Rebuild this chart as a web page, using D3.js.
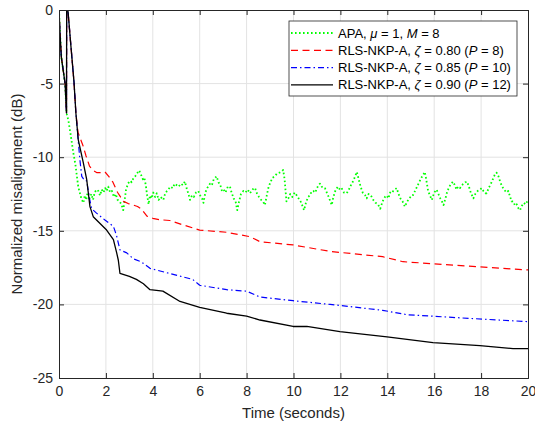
<!DOCTYPE html>
<html>
<head>
<meta charset="utf-8">
<script src="https://cdn.jsdelivr.net/npm/d3@7"></script>
<style>
  html, body { margin: 0; padding: 0; background: #fff; }
  svg { display: block; font-family: "Liberation Sans", Arial, Helvetica, sans-serif; }
</style>
</head>
<body>
<svg id="chart" width="535" height="431"></svg>
<script>
// ---------------- DATA ----------------
const xTicks = [0, 2, 4, 6, 8, 10, 12, 14, 16, 18, 20];
const yTicks = [0, -5, -10, -15, -20, -25];
const xLabel = "Time (seconds)";
const yLabel = "Normalized misalignment (dB)";

// APA, mu = 1, M = 8 (green dotted)
const apaTime = [0,0.04,0.1,0.26,0.32,0.4,0.5,0.61,0.7,0.82,0.95,1.04,1.1,1.16,1.22,1.3,1.38,1.45,1.52,1.6,1.68,1.75,1.82,1.9,1.97,2.03,2.1,2.18,2.26,2.34,2.42,2.5,2.58,2.66,2.74,2.8,2.86,2.94,3.03,3.1,3.18,3.25,3.33,3.42,3.5,3.58,3.64,3.7,3.76,3.82,3.88,3.95,4.02,4.1,4.17,4.25,4.33,4.45,4.52,4.6,4.66,4.75,4.85,4.93,5.02,5.1,5.2,5.28,5.37,5.44,5.52,5.59,5.67,5.75,5.84,5.94,6.02,6.1,6.16,6.24,6.32,6.44,6.52,6.6,6.72,6.8,6.88,6.95,7.02,7.1,7.2,7.29,7.36,7.45,7.53,7.6,7.68,7.76,7.86,7.95,8.05,8.14,8.22,8.3,8.36,8.45,8.53,8.62,8.7,8.78,8.86,8.94,9.02,9.1,9.2,9.3,9.4,9.5,9.56,9.62,9.7,9.78,9.86,9.95,10.05,10.14,10.22,10.3,10.38,10.45,10.53,10.62,10.7,10.78,10.85,10.93,11.0,11.07,11.13,11.2,11.28,11.34,11.42,11.5,11.57,11.63,11.7,11.8,11.9,11.98,12.05,12.15,12.27,12.36,12.45,12.55,12.63,12.7,12.78,12.86,12.95,13.05,13.12,13.2,13.3,13.4,13.5,13.6,13.7,13.8,13.9,13.97,14.05,14.12,14.18,14.25,14.32,14.4,14.48,14.56,14.65,14.75,14.85,14.95,15.02,15.1,15.18,15.27,15.36,15.45,15.53,15.6,15.66,15.74,15.82,15.9,16.0,16.1,16.18,16.26,16.33,16.4,16.48,16.56,16.65,16.72,16.8,16.88,16.95,17.02,17.1,17.18,17.26,17.33,17.4,17.48,17.56,17.67,17.75,17.85,17.95,18.03,18.1,18.18,18.24,18.32,18.42,18.5,18.58,18.66,18.74,18.82,18.9,18.98,19.08,19.16,19.24,19.3,19.37,19.45,19.52,19.6,19.66,19.74,19.82,19.9,20.0];
const apaDb = [0,-1.5,-3.2,-5.0,-7.0,-7.5,-8.5,-9.7,-10.5,-12.0,-12.8,-13.1,-12.6,-12.9,-12.4,-12.8,-12.5,-12.9,-12.4,-12.2,-12.3,-12.6,-12.2,-12.4,-12.1,-12.3,-12.0,-12.4,-12.3,-12.7,-12.5,-12.9,-13.0,-13.2,-13.6,-12.9,-12.2,-11.8,-11.6,-11.7,-11.4,-11.3,-11.1,-10.9,-11.2,-11.5,-11.4,-11.9,-12.6,-13.2,-12.6,-12.8,-12.4,-12.7,-12.45,-12.9,-12.7,-12.9,-12.5,-12.3,-12.2,-12.0,-12.1,-11.8,-11.9,-12.0,-11.8,-11.9,-11.65,-12.1,-12.5,-12.9,-12.6,-12.7,-12.4,-12.3,-12.6,-12.8,-13.1,-12.4,-12.1,-11.8,-11.9,-11.5,-11.3,-11.7,-11.9,-12.3,-12.2,-12.4,-12.0,-12.0,-12.4,-12.8,-13.0,-13.6,-13.0,-12.5,-12.3,-12.4,-12.2,-12.45,-12.3,-12.1,-12.1,-12.5,-12.7,-12.9,-13.0,-13.25,-12.6,-12.0,-11.7,-11.4,-11.3,-11.1,-11.05,-10.95,-10.87,-11.5,-13.0,-12.8,-12.5,-12.7,-12.4,-12.6,-12.8,-13.0,-13.3,-13.6,-13.1,-12.7,-12.6,-12.3,-12.3,-12.4,-12.1,-11.9,-11.8,-12.0,-12.1,-12.1,-12.4,-12.7,-13.0,-13.25,-12.7,-12.2,-12.0,-12.2,-12.1,-12.4,-12.45,-12.2,-11.9,-11.6,-11.3,-11.0,-11.5,-12.0,-12.4,-12.57,-12.8,-12.5,-12.6,-12.9,-13.1,-13.2,-13.5,-13.0,-12.7,-12.6,-12.8,-12.4,-12.45,-12.3,-12.2,-12.1,-12.5,-12.8,-13.0,-13.36,-13.0,-12.8,-12.6,-12.57,-12.3,-12.0,-11.7,-11.4,-11.2,-11.0,-11.5,-12.3,-12.6,-12.9,-12.4,-12.2,-12.5,-12.8,-13.0,-13.25,-12.8,-12.3,-12.0,-11.8,-11.66,-11.9,-12.2,-12.0,-12.1,-11.9,-11.8,-11.7,-11.66,-12.0,-12.4,-12.8,-12.5,-12.3,-12.2,-12.1,-12.3,-12.45,-12.45,-12.1,-11.8,-11.5,-11.2,-11.05,-11.3,-11.7,-12.0,-12.2,-12.4,-12.3,-12.7,-13.0,-13.0,-13.3,-13.2,-13.5,-13.6,-13.3,-13.1,-13.2,-12.9];

// RLS-NKP-A, zeta = 0.80 (P = 8) (red dashed)
const rls80Time = [0,0.04,0.1,0.26,0.32,0.33,0.38,0.5,0.64,0.72,0.81,0.9,1.02,1.15,1.3,1.45,1.62,1.8,1.96,2.12,2.3,2.5,2.75,2.95,3.16,3.35,3.5,3.75,4.0,4.3,4.73,5.29,6.0,7.15,8.15,8.57,9.98,11.56,13.8,14.67,17.8,20];
const rls80Db = [0,-1.5,-3.2,-5.0,-7.0,3,0,-2.3,-4.9,-7.0,-8.3,-8.7,-9.2,-9.9,-10.6,-10.9,-11.05,-11.05,-11.0,-11.3,-11.7,-12.4,-13.0,-13.15,-13.25,-13.35,-13.5,-14.0,-14.15,-14.25,-14.3,-14.6,-14.95,-15.1,-15.4,-15.74,-15.96,-16.4,-16.76,-17.1,-17.44,-17.66];

// RLS-NKP-A, zeta = 0.85 (P = 10) (blue dash-dot)
const rls85Time = [0,0.04,0.1,0.26,0.32,0.33,0.38,0.5,0.64,0.72,0.82,0.9,0.97,1.1,1.18,1.3,1.39,1.6,1.96,2.32,2.45,2.6,2.89,3.17,3.5,3.88,4.73,5.7,6.0,7.15,8.0,8.57,9.98,11.56,13.8,14.84,17.5,20];
const rls85Db = [0,-1.5,-3.2,-5.0,-7.0,3,0,-2.3,-4.9,-7.0,-8.9,-10.3,-11.3,-11.6,-11.6,-12.8,-13.5,-13.8,-14.27,-14.7,-15.3,-16.3,-16.5,-16.9,-17.1,-17.55,-17.9,-18.3,-18.7,-19.0,-19.1,-19.5,-19.75,-20.0,-20.4,-20.7,-20.95,-21.17];

// RLS-NKP-A, zeta = 0.90 (P = 12) (black solid)
const rls90Time = [0,0.04,0.1,0.26,0.32,0.33,0.38,0.5,0.64,0.72,0.82,1.04,1.18,1.32,1.46,1.75,2.03,2.32,2.46,2.53,2.6,2.8,3.0,3.3,3.6,3.88,4.43,5.16,6.0,7.15,8.0,8.57,9.98,10.57,11.98,13.99,15.95,17.95,19.36,20];
const rls90Db = [0,-1.5,-3.2,-5.0,-7.0,3,0,-2.3,-4.9,-7.0,-8.8,-10.4,-11.5,-13.36,-14.04,-14.5,-14.95,-15.6,-16.5,-17.0,-17.9,-18.0,-18.1,-18.3,-18.6,-19.0,-19.1,-19.8,-20.2,-20.6,-20.8,-21.06,-21.5,-21.5,-21.85,-22.2,-22.6,-22.8,-23.0,-23.0];

const seriesNames = ["apa", "rls80", "rls85", "rls90"];
// ---------------- CHART ----------------
const W = 535, H = 431;
const m = { left: 59, top: 10, right: 7, bottom: 53 };
const pw = W - m.left - m.right, ph = H - m.top - m.bottom;

const svg = d3.select("#chart");
const x = d3.scaleLinear().domain([0, 20]).range([m.left, m.left + pw]);
const y = d3.scaleLinear().domain([-25, 0]).range([m.top + ph, m.top]);

const axisColor = "#262626";
const gridColor = "#e3e3e3";

// grid
const grid = svg.append("g");
grid.selectAll("line.gx").data(xTicks.slice(1, -1)).join("line")
  .attr("x1", d => x(d)).attr("x2", d => x(d)).attr("y1", m.top).attr("y2", m.top + ph)
  .attr("stroke", gridColor).attr("stroke-width", 1);
grid.selectAll("line.gy").data(yTicks.slice(1, -1)).join("line")
  .attr("y1", d => y(d)).attr("y2", d => y(d)).attr("x1", m.left).attr("x2", m.left + pw)
  .attr("stroke", gridColor).attr("stroke-width", 1);

// clip
svg.append("clipPath").attr("id", "clip").append("rect")
  .attr("x", m.left).attr("y", m.top).attr("width", pw).attr("height", ph);

const mk = (ts, vs) => ts.map((t, i) => [t, vs[i]]);
const series = [
  { name: "apa", data: mk(apaTime, apaDb), color: "#00ff00", dash: "1.6,2.4", width: 1.8 },
  { name: "rls80", data: mk(rls80Time, rls80Db), color: "#ff0000", dash: "7,4.5", width: 1.2 },
  { name: "rls85", data: mk(rls85Time, rls85Db), color: "#0000ff", dash: "6,3,1.5,3", width: 1.2 },
  { name: "rls90", data: mk(rls90Time, rls90Db), color: "#000000", dash: null, width: 1.3 }
];
const line = d3.line().x(d => x(d[0])).y(d => y(d[1]));
const plot = svg.append("g").attr("clip-path", "url(#clip)");
series.forEach(s => {
  plot.append("path").datum(s.data).attr("d", line)
    .attr("fill", "none").attr("stroke", s.color).attr("stroke-width", s.width)
    .attr("stroke-dasharray", s.dash).attr("stroke-linejoin", "round");
});

// axes
const fs = 14;
const xAxisB = d3.axisBottom(x).tickValues(xTicks).tickSize(-5).tickPadding(8).tickFormat(d3.format("d"));
const xAxisT = d3.axisTop(x).tickValues(xTicks).tickSize(-5).tickFormat("");
const yAxisL = d3.axisLeft(y).tickValues(yTicks).tickSize(-5).tickPadding(6).tickFormat(d => d === 0 ? "0" : "-" + Math.abs(d));
const yAxisR = d3.axisRight(y).tickValues(yTicks).tickSize(-5).tickFormat("");

function style(g) {
  g.select(".domain").attr("stroke", axisColor).attr("stroke-width", 1);
  g.selectAll(".tick line").attr("stroke", axisColor).attr("stroke-width", 1);
  g.selectAll(".tick text").attr("fill", axisColor).attr("font-size", fs)
    .attr("font-family", '"Liberation Sans", Arial, sans-serif');
}
svg.append("g").attr("transform", `translate(0,${m.top + ph})`).call(xAxisB).call(style);
svg.append("g").attr("transform", `translate(0,${m.top})`).call(xAxisT).call(style);
svg.append("g").attr("transform", `translate(${m.left},0)`).call(yAxisL).call(style);
svg.append("g").attr("transform", `translate(${m.left + pw},0)`).call(yAxisR).call(style);

// axis labels
svg.append("text").attr("x", m.left + pw / 2).attr("y", 418)
  .attr("text-anchor", "middle").attr("font-size", 15).attr("fill", axisColor).text(xLabel);
svg.append("text").attr("transform", `translate(22,${m.top + ph / 2}) rotate(-90)`)
  .attr("text-anchor", "middle").attr("font-size", 15).attr("fill", axisColor).text(yLabel);

// legend
const legX = 289, legY = 21, legW = 228, legH = 75;
const leg = svg.append("g");
leg.append("rect").attr("x", legX).attr("y", legY).attr("width", legW).attr("height", legH)
  .attr("fill", "#fff").attr("stroke", axisColor).attr("stroke-width", 0.8);
const legendParts = [
  [["APA, ", 0], ["μ", 1], [" = 1, ", 0], ["M", 1], [" = 8", 0]],
  [["RLS-NKP-A, ", 0], ["ζ", 1], [" = 0.80 (", 0], ["P", 1], [" = 8)", 0]],
  [["RLS-NKP-A, ", 0], ["ζ", 1], [" = 0.85 (", 0], ["P", 1], [" = 10)", 0]],
  [["RLS-NKP-A, ", 0], ["ζ", 1], [" = 0.90 (", 0], ["P", 1], [" = 12)", 0]]
];
series.forEach((s, i) => {
  const ly = legY + 12 + i * 17.3;
  leg.append("line").attr("x1", legX + 2).attr("x2", legX + 44).attr("y1", ly).attr("y2", ly)
    .attr("stroke", s.color).attr("stroke-width", s.width).attr("stroke-dasharray", s.dash);
  const t = leg.append("text").attr("x", legX + 49).attr("y", ly + 4.5)
    .attr("font-size", 13).attr("fill", "#000");
  legendParts[i].forEach(p => {
    t.append("tspan").text(p[0]).attr("font-style", p[1] ? "italic" : null);
  });
});
</script>
</body>
</html>
